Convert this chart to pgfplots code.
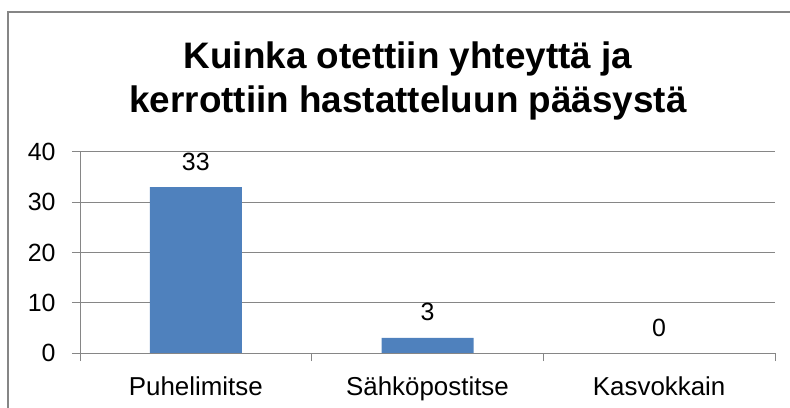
\documentclass[border=0pt]{standalone}
\usepackage{pgfplots}
\pgfplotsset{compat=1.18}
\usepackage{fontspec}
\setmainfont{Liberation Sans}
\definecolor{barblue}{HTML}{4F81BD}
\definecolor{gridgray}{HTML}{868686}
\begin{document}
\begin{tikzpicture}
\useasboundingbox (0,0) rectangle (790bp,408bp);
\draw[gridgray, line width=1.2bp] (8bp,-20bp) rectangle (820bp,396bp);
\node[font=\fontsize{37}{44}\selectfont\bfseries, anchor=base, inner sep=0pt] at (408bp,339bp) {Kuinka otettiin yhteyttä ja};
\node[font=\fontsize{37}{44}\selectfont\bfseries, anchor=base, inner sep=0pt] at (408bp,295bp) {kerrottiin hastatteluun pääsystä};
\begin{axis}[
  at={(80bp,55bp)}, anchor=south west,
  scale only axis, width=695bp, height=201bp,
  xmin=-0.5, xmax=2.5, ymin=0, ymax=40,
  ytick={0,10,20,30,40},
  xtick={-0.5,0.5,1.5,2.5}, xticklabels={},
  extra x ticks={0,1,2},
  extra x tick labels={Puhelimitse,Sähköpostitse,Kasvokkain},
  extra x tick style={major tick length=0pt,
     xticklabel style={font=\fontsize{26}{30}\selectfont, yshift=-20bp}},
  axis lines*=left,
  tick align=outside,
  major tick length=8bp,
  ymajorgrids,
  grid style={gridgray, line width=1bp},
  axis line style={gridgray, line width=1bp},
  tick style={gridgray, line width=1bp},
  /pgf/number format/assume math mode=true,
  tick label style={font=\fontsize{25}{30}\selectfont, black},
  yticklabel style={xshift=-13bp},
  ybar, bar width=92bp,
  nodes near coords,
  every node near coord/.append style={font=\fontsize{25}{30}\selectfont, anchor=base, yshift=17bp, inner sep=0pt, black},
]
\addplot[fill=barblue, draw=none] coordinates {(0,33) (1,3) (2,0)};
\end{axis}
\end{tikzpicture}
\end{document}
